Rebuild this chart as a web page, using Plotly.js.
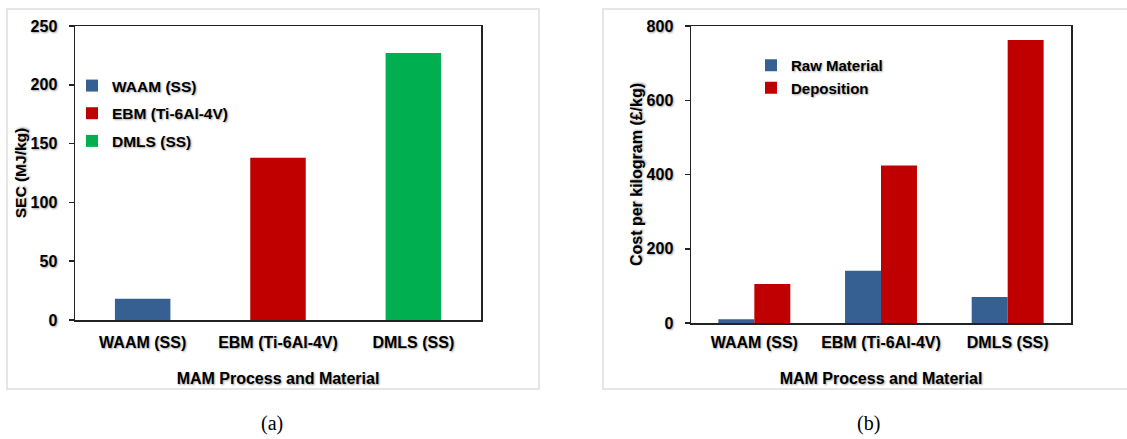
<!DOCTYPE html>
<html>
<head>
<meta charset="utf-8">
<script src="https://cdn.plot.ly/plotly-3.0.1.min.js"></script>
<style>html,body{margin:0;padding:0;background:#fff;}#chart{width:1127px;height:439px;}</style>
</head>
<body>
<div id="chart"></div>
<script>
// ---- data ----
const categories = ['WAAM (SS)', 'EBM (Ti-6Al-4V)', 'DMLS (SS)'];
const secValues = [18, 138, 227];
const secColors = ['#376092', '#C00000', '#00B050'];
const seriesNames = ['Raw Material', 'Deposition'];
const rawMaterialCost = [10, 141, 70];
const depositionCost = [105, 424, 762];
const secTicks = [0, 50, 100, 150, 200, 250];
const costTicks = [0, 200, 400, 600, 800];
const panelLabels = ['(a)', '(b)'];

// ---- layout helpers ----
const W = 1127, H = 439;
const px = v => v / W;
const py = v => 1 - v / H;
const SH = '1px 1px 2px rgba(0,0,0,0.35)';
const fnt = (size) => ({family: 'Arial, "Liberation Sans", sans-serif', size: size, color: '#000', weight: 'bold', shadow: SH});

const traces = [];
categories.forEach((c, i) => {
  traces.push({
    type: 'bar', x: [c], y: [secValues[i]], name: c,
    marker: {color: secColors[i]}, width: 0.41, offset: -0.205,
    xaxis: 'x', yaxis: 'y', legend: 'legend', legendgroup: 'g' + i,
    hoverinfo: 'x+y'
  });
});
traces.push({
  type: 'bar', x: categories, y: rawMaterialCost, name: seriesNames[0],
  marker: {color: '#376092'}, width: 0.284, offset: -0.284,
  xaxis: 'x2', yaxis: 'y2', legend: 'legend2', legendgroup: 'r0'
});
traces.push({
  type: 'bar', x: categories, y: depositionCost, name: seriesNames[1],
  marker: {color: '#C00000'}, width: 0.284, offset: 0,
  xaxis: 'x2', yaxis: 'y2', legend: 'legend2', legendgroup: 'r1'
});

const xCommon = {
  type: 'category', categoryorder: 'array', categoryarray: categories,
  showline: true, mirror: true, linecolor: '#222', linewidth: 1.5,
  ticks: '', showgrid: false, zeroline: false, fixedrange: true,
  tickfont: fnt(16), automargin: true
};
const yCommon = {
  showline: true, mirror: true, linecolor: '#222', linewidth: 1.5,
  ticks: 'outside', ticklen: 5, tickcolor: '#222', tickwidth: 1.5,
  showgrid: false, zeroline: false, fixedrange: true,
  tickfont: fnt(16), ticklabelstandoff: 8, automargin: true
};
const capFont = {family: '"Liberation Serif", "Times New Roman", serif', size: 20, color: '#000'};

const layout = {
  width: W, height: H,
  margin: {l: 0, r: 0, t: 0, b: 0, autoexpand: false},
  paper_bgcolor: '#fff', plot_bgcolor: '#fff',
  barmode: 'overlay',
  xaxis: Object.assign({}, xCommon, {
    domain: [px(75), px(481)], anchor: 'y', ticklabelstandoff: 7,
    title: {text: 'MAM Process and Material', font: fnt(16), standoff: 23}
  }),
  yaxis: Object.assign({}, yCommon, {
    domain: [py(320), py(26)], anchor: 'x',
    range: [0, 250], tickvals: secTicks,
    title: {text: 'SEC (MJ/kg)', font: fnt(15.5), standoff: 0}
  }),
  xaxis2: Object.assign({}, xCommon, {
    domain: [px(691), px(1071)], anchor: 'y2', ticklabelstandoff: 4,
    title: {text: 'MAM Process and Material', font: fnt(16), standoff: 23}
  }),
  yaxis2: Object.assign({}, yCommon, {
    domain: [py(323), py(26)], anchor: 'x2',
    range: [0, 800], tickvals: costTicks,
    title: {text: 'Cost per kilogram (£/kg)', font: fnt(16), standoff: 0}
  }),
  legend: {
    x: px(72), y: py(69), xanchor: 'left', yanchor: 'top',
    bgcolor: 'rgba(0,0,0,0)', font: fnt(15.5),
    traceorder: 'grouped', tracegroupgap: 4.5
  },
  legend2: {
    x: px(751), y: py(49), xanchor: 'left', yanchor: 'top',
    bgcolor: 'rgba(0,0,0,0)', font: fnt(15),
    traceorder: 'grouped', tracegroupgap: 0
  },
  shapes: [
    {type: 'rect', xref: 'paper', yref: 'paper', x0: px(7), x1: px(539), y0: py(389), y1: py(9),
     line: {color: '#e6e6e6', width: 2}, layer: 'below'},
    {type: 'rect', xref: 'paper', yref: 'paper', x0: px(603), x1: px(1140), y0: py(389), y1: py(9),
     line: {color: '#e6e6e6', width: 2}, layer: 'below'}
  ],
  annotations: [
    {text: panelLabels[0], xref: 'paper', yref: 'paper', x: px(272), y: py(423),
     xanchor: 'center', yanchor: 'middle', showarrow: false, font: capFont},
    {text: panelLabels[1], xref: 'paper', yref: 'paper', x: px(868), y: py(423),
     xanchor: 'center', yanchor: 'middle', showarrow: false, font: capFont}
  ],
  showlegend: true
};

Plotly.newPlot('chart', traces, layout, {displayModeBar: false, staticPlot: true});
</script>
</body>
</html>
